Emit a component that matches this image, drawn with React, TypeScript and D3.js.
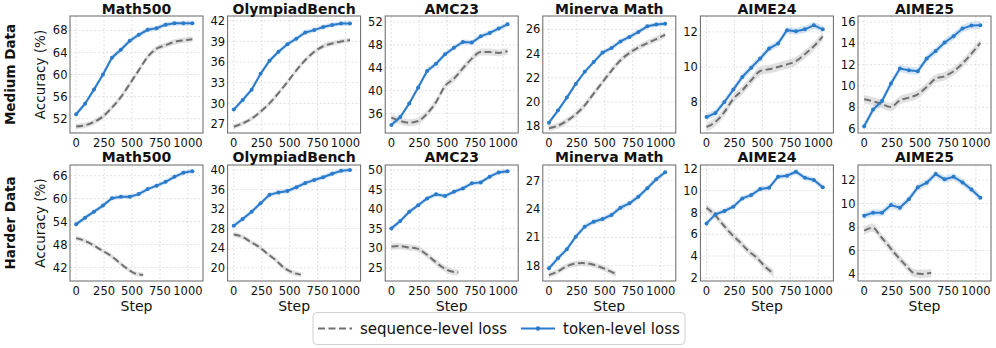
import React from "react";
import * as d3 from "d3";

// ---------- data ----------
const steps = [0, 80, 160, 240, 320, 400, 480, 560, 640, 720, 800, 880, 960, 1040];
const seqStepsHard = [0, 75, 150, 225, 300, 375, 450, 525, 600];
const xTicks = [0, 250, 500, 750, 1000];
const benchmarks = ["Math500", "OlympiadBench", "AMC23", "Minerva Math", "AIME24", "AIME25"];
const rowLabels = ["Medium Data", "Harder Data"];
const legendLabels = ["sequence-level loss", "token-level loss"];

// Medium data — token-level loss
const medTokMath500 = [52.8, 54.7, 57.3, 60.0, 63.05, 64.5, 66.1, 67.2, 68.1, 68.4, 69.0, 69.3, 69.3, 69.3];
const medTokOlympiad = [29.1, 30.5, 32.0, 34.3, 36.2, 37.5, 38.6, 39.4, 40.3, 40.65, 41.1, 41.4, 41.6, 41.6];
const medTokAMC = [34.0, 35.4, 37.75, 40.55, 43.45, 44.7, 46.35, 47.5, 48.5, 48.4, 49.5, 50.1, 50.85, 51.6];
const medTokMinerva = [18.3, 19.3, 20.37, 21.5, 22.5, 23.3, 24.08, 24.46, 25.0, 25.37, 25.78, 26.25, 26.4, 26.47];
const medTokAIME24 = [7.14, 7.37, 8.0, 8.71, 9.43, 9.96, 10.48, 11.05, 11.34, 12.1, 12.04, 12.15, 12.38, 12.15];
const medTokAIME25 = [6.22, 7.79, 8.6, 10.23, 11.63, 11.47, 11.38, 12.57, 13.28, 14.07, 14.66, 15.38, 15.66, 15.69];

// Medium data — sequence-level loss
const medSeqMath500 = [50.6, 50.8, 51.4, 52.4, 54.0, 55.9, 58.3, 60.75, 63.2, 64.7, 65.3, 65.9, 66.2, 66.4];
const medSeqOlympiad = [26.6, 27.1, 27.8, 28.8, 30.0, 31.5, 33.1, 34.8, 36.3, 37.5, 38.3, 38.7, 39.0, 39.2];
const medSeqAMC = [35.3, 34.7, 34.4, 34.7, 36.0, 38.0, 40.8, 42.1, 43.9, 45.6, 46.75, 46.75, 46.6, 46.9];
const medSeqMinerva = [17.85, 18.05, 18.45, 19.0, 19.73, 20.7, 21.65, 22.6, 23.45, 24.05, 24.5, 24.87, 25.2, 25.55];
const medSeqAIME24 = [6.57, 6.86, 7.43, 8.19, 8.67, 9.24, 9.77, 9.87, 10.0, 10.15, 10.33, 10.73, 11.18, 11.75];
const medSeqAIME25 = [8.76, 8.57, 8.29, 8.03, 8.66, 8.91, 9.22, 9.91, 10.69, 10.91, 11.38, 12.1, 13.04, 14.03];

// Harder data — token-level loss
const hardTokMath500 = [53.3, 55.05, 56.6, 58.2, 60.1, 60.5, 60.5, 61.2, 62.5, 63.4, 64.4, 65.7, 66.8, 67.2];
const hardTokOlympiad = [28.6, 29.97, 31.46, 33.2, 34.9, 35.4, 35.7, 36.45, 37.3, 37.95, 38.5, 39.2, 39.8, 40.0];
const hardTokAMC = [35.07, 36.95, 39.3, 41.0, 42.75, 43.8, 43.35, 44.45, 45.3, 46.6, 46.85, 48.3, 49.4, 49.7];
const hardTokMinerva = [17.72, 18.78, 19.73, 21.07, 22.13, 22.66, 22.94, 23.37, 24.14, 24.6, 25.3, 26.2, 27.15, 27.89];
const hardTokAIME24 = [7.0, 7.83, 8.14, 8.53, 9.3, 9.6, 10.16, 10.28, 11.29, 11.38, 11.75, 11.2, 10.99, 10.32];
const hardTokAIME25 = [8.96, 9.22, 9.22, 9.87, 9.64, 10.36, 11.38, 11.77, 12.51, 12.06, 12.28, 11.8, 11.2, 10.49];

// Harder data — sequence-level loss
const hardSeqMath500 = [49.7, 49.0, 47.9, 46.6, 45.3, 43.6, 41.85, 40.5, 40.1];
const hardSeqOlympiad = [26.8, 26.35, 25.3, 24.3, 22.9, 21.6, 20.0, 19.05, 18.6];
const hardSeqAMC = [30.4, 30.55, 30.2, 29.95, 28.7, 26.95, 25.25, 24.15, 23.8];
const hardSeqMinerva = [17.0, 17.36, 17.89, 18.2, 18.28, 18.18, 17.89, 17.54, 17.12];
const hardSeqAIME24 = [8.44, 7.77, 6.85, 5.99, 5.26, 4.46, 3.84, 3.01, 2.4];
const hardSeqAIME25 = [7.69, 7.94, 7.17, 6.32, 5.47, 4.71, 4.06, 4.0, 4.1];

// band half-widths (std) per panel
const tokStd = [0.45, 0.35, 0.45, 0.2, 0.2, 0.35, 0.6, 0.5, 0.6, 0.3, 0.25, 0.3];
const seqStd = [0.5, 0.35, 0.6, 0.25, 0.25, 0.4, 0.6, 0.5, 0.8, 0.3, 0.35, 0.35];

// y ticks and domains per panel
const yTicks = [
  [52, 56, 60, 64, 68],
  [27, 30, 33, 36, 39, 42],
  [36, 40, 44, 48, 52],
  [18, 20, 22, 24, 26],
  [8, 10, 12],
  [6, 8, 10, 12, 14, 16],
  [42, 48, 54, 60, 66],
  [20, 24, 28, 32, 36, 40],
  [25, 30, 35, 40, 45, 50],
  [18, 21, 24, 27],
  [2, 4, 6, 8, 10, 12],
  [4, 6, 8, 10, 12],
];
const yDomains = [
  [49.4, 70.6],
  [25.7, 42.7],
  [32.6, 53.05],
  [17.45, 27.1],
  [6.23, 12.91],
  [5.59, 16.56],
  [38.5, 68.8],
  [17.3, 41.0],
  [21.6, 51.3],
  [16.38, 28.66],
  [1.7, 12.37],
  [3.4, 13.28],
];

const tokenSeries = [
  medTokMath500, medTokOlympiad, medTokAMC, medTokMinerva, medTokAIME24, medTokAIME25,
  hardTokMath500, hardTokOlympiad, hardTokAMC, hardTokMinerva, hardTokAIME24, hardTokAIME25,
];
const seqSeries = [
  medSeqMath500, medSeqOlympiad, medSeqAMC, medSeqMinerva, medSeqAIME24, medSeqAIME25,
  hardSeqMath500, hardSeqOlympiad, hardSeqAMC, hardSeqMinerva, hardSeqAIME24, hardSeqAIME25,
];

// ---------- styles ----------
const FONT = "DejaVu Sans, sans-serif";
const BLUE = "#2b7bcb";
const GRAY = "#707070";
const W = 996;
const H = 348;
const panelW = 133;
const rowTop = [16, 165];
const rowH = [117, 116];
const colLeft = (i: number) => 70 + i * 157.6;

type Pt = { x: number; y: number; s: number };

function Panel({ idx }: { idx: number }) {
  const row = Math.floor(idx / 6);
  const col = idx % 6;
  const left = colLeft(col);
  const top = rowTop[row];
  const h = rowH[row];
  const x = d3.scaleLinear().domain([-55, 1135]).range([0, panelW]);
  const y = d3.scaleLinear().domain(yDomains[idx]).range([h, 0]);

  const tok: Pt[] = tokenSeries[idx].map((v, i) => ({ x: steps[i], y: v, s: tokStd[idx] }));
  const seqX = row === 0 ? steps : seqStepsHard;
  const seq: Pt[] = seqSeries[idx].map((v, i) => ({ x: seqX[i], y: v, s: seqStd[idx] }));

  const lineLin = d3.line<Pt>().x((d) => x(d.x)).y((d) => y(d.y));
  const areaLin = d3.area<Pt>().x((d) => x(d.x)).y0((d) => y(d.y - d.s)).y1((d) => y(d.y + d.s));
  const lineSm = d3.line<Pt>().x((d) => x(d.x)).y((d) => y(d.y)).curve(d3.curveMonotoneX);
  const areaSm = d3.area<Pt>().x((d) => x(d.x)).y0((d) => y(d.y - d.s)).y1((d) => y(d.y + d.s)).curve(d3.curveMonotoneX);

  const clipId = `clip${idx}`;
  return (
    <g transform={`translate(${left},${top})`}>
      <defs>
        <clipPath id={clipId}>
          <rect x={0} y={0} width={panelW} height={h} />
        </clipPath>
      </defs>
      {xTicks.map((t) => (
        <line key={"gx" + t} x1={x(t)} x2={x(t)} y1={0} y2={h} stroke="#d4d4d4" strokeWidth={0.7} strokeDasharray="2,2" />
      ))}
      {yTicks[idx].map((t) => (
        <line key={"gy" + t} x1={0} x2={panelW} y1={y(t)} y2={y(t)} stroke="#d4d4d4" strokeWidth={0.7} strokeDasharray="2,2" />
      ))}
      <g clipPath={`url(#${clipId})`}>
        <path d={areaSm(seq) || ""} fill="#c8c8c8" opacity={0.55} />
        <path d={areaLin(tok) || ""} fill={BLUE} opacity={0.2} />
        <path d={lineSm(seq) || ""} fill="none" stroke={GRAY} strokeWidth={2} strokeDasharray="7,3.5" />
        <path d={lineLin(tok) || ""} fill="none" stroke={BLUE} strokeWidth={2} />
        {tok.map((d, i) => (
          <circle key={i} cx={x(d.x)} cy={y(d.y)} r={2} fill={BLUE} />
        ))}
      </g>
      <rect x={0} y={0} width={panelW} height={h} fill="none" stroke="#666" strokeWidth={1} />
      {xTicks.map((t) => (
        <text key={"tx" + t} x={x(t)} y={h + 13.5} textAnchor="middle" fontSize={11.5} fontFamily={FONT} fill="#111">
          {t}
        </text>
      ))}
      {yTicks[idx].map((t) => (
        <text key={"ty" + t} x={-2.5} y={y(t)} dy="0.36em" textAnchor="end" fontSize={11.5} fontFamily={FONT} fill="#111">
          {t}
        </text>
      ))}
      <text x={panelW / 2} y={row === 0 ? -2.5 : -3} textAnchor="middle" fontSize={14} fontWeight="bold" fontFamily={FONT} fill="#111">
        {benchmarks[col]}
      </text>
      {row === 1 && (
        <text x={panelW / 2} y={h + 29.5} textAnchor="middle" fontSize={14} fontFamily={FONT} fill="#111">
          Step
        </text>
      )}
      {col === 0 && (
        <text transform={`translate(-25,${h / 2}) rotate(-90)`} textAnchor="middle" fontSize={13.5} fontFamily={FONT} fill="#111">
          Accuracy (%)
        </text>
      )}
    </g>
  );
}

export default function App() {
  const panels = d3.range(12);
  return (
    <svg width={W} height={H} style={{ position: "absolute", left: 0, top: 0, background: "#fff" }}>
      <rect width={W} height={H} fill="#fff" />
      {panels.map((i) => (
        <Panel key={i} idx={i} />
      ))}
      {rowLabels.map((lbl, r) => (
        <text
          key={lbl}
          transform={`translate(15,${rowTop[r] + rowH[r] / 2}) rotate(-90)`}
          textAnchor="middle"
          fontSize={13.5}
          fontWeight="bold"
          fontFamily={FONT}
          fill="#111"
        >
          {lbl}
        </text>
      ))}
      <g>
        <rect x={313} y={312.5} width={372} height={32} rx={4} fill="#fff" stroke="#cfcfcf" strokeWidth={1} />
        <line x1={318} x2={352} y1={328.5} y2={328.5} stroke={GRAY} strokeWidth={2} strokeDasharray="7,3.5" />
        <text x={360} y={328.5} dy="0.36em" fontSize={15} fontFamily={FONT} fill="#111">
          {legendLabels[0]}
        </text>
        <line x1={521} x2={555} y1={328.5} y2={328.5} stroke={BLUE} strokeWidth={2} />
        <circle cx={538} cy={328.5} r={2.2} fill={BLUE} />
        <text x={563} y={328.5} dy="0.36em" fontSize={15} fontFamily={FONT} fill="#111">
          {legendLabels[1]}
        </text>
      </g>
    </svg>
  );
}
